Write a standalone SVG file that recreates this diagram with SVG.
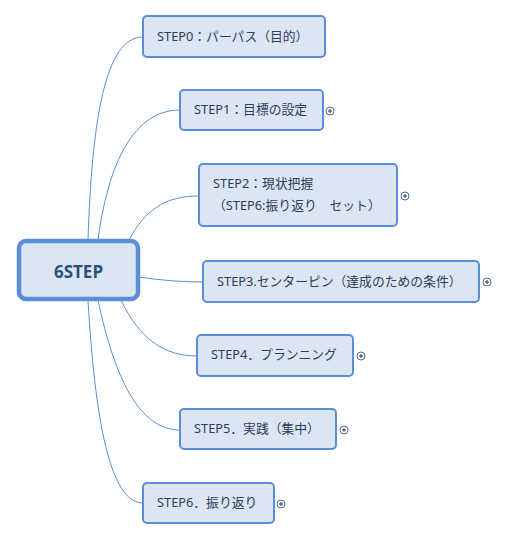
<svg xmlns="http://www.w3.org/2000/svg" width="507" height="541" viewBox="0 0 507 541">
<style>
.n{fill:#dce6f2;stroke:#5b8ed6;stroke-width:2}
.t{font-family:"Noto Sans","Noto Sans CJK JP",sans-serif;font-size:12.8px;fill:#2c3e5c}
.c{fill:none;stroke:#5b8ed6;stroke-width:1}
.p{fill:#fff;stroke:#3a5a8a;stroke-width:0.9}
.pl{stroke:#2c3e5c;stroke-width:1}
</style>
<rect width="507" height="541" fill="#fff"/>
<g id="connectors">
<path class="c" d="M88,240 C92,120 105,37 143,37"/>
<path class="c" d="M98,240 C110,150 140,110 180,110"/>
<path class="c" d="M129,240 C145,210 165,196 199,196"/>
<path class="c" d="M138,277 C160,280 180,282 203,282"/>
<path class="c" d="M121,300 C140,340 165,356 197,356"/>
<path class="c" d="M98,300 C115,380 140,430 180,430"/>
<path class="c" d="M88,300 C95,420 110,503 143,503"/>
</g>
<g id="root">
<rect x="19" y="241" width="119" height="58" rx="7" fill="#dce6f2" stroke="#5b8ed6" stroke-width="4.5"/>
<text x="78.5" y="277.5" text-anchor="middle" font-family="'Open Sans','Noto Sans',sans-serif" font-size="17" font-weight="bold" fill="#2e4f7a">6STEP</text>
</g>
<g id="step0">
<rect class="n" x="143" y="16" width="182" height="41" rx="4"/>
<text class="t" x="157" y="41">STEP0：パーパス（目的）</text>
</g>
<g id="step1">
<rect class="n" x="180" y="90" width="143" height="40" rx="4"/>
<text class="t" x="194" y="114">STEP1：目標の設定</text>
<circle class="p" cx="330" cy="111" r="4"/><path class="pl" d="M328,111h4M330,109v4"/>
</g>
<g id="step2">
<rect class="n" x="199" y="164" width="198" height="62" rx="4"/>
<text class="t" x="213" y="188">STEP2：現状把握</text>
<text class="t" x="213" y="210">（STEP6:振り返り　セット）</text>
<circle class="p" cx="405" cy="196" r="4"/><path class="pl" d="M403,196h4M405,194v4"/>
</g>
<g id="step3">
<rect class="n" x="203" y="261" width="276" height="41" rx="4"/>
<text class="t" x="217" y="286">STEP3.センターピン（達成のための条件）</text>
<circle class="p" cx="487" cy="282" r="4"/><path class="pl" d="M485,282h4M487,280v4"/>
</g>
<g id="step4">
<rect class="n" x="197" y="335" width="156" height="41" rx="4"/>
<text class="t" x="211" y="359">STEP4．プランニング</text>
<circle class="p" cx="361" cy="356" r="4"/><path class="pl" d="M359,356h4M361,354v4"/>
</g>
<g id="step5">
<rect class="n" x="180" y="409" width="156" height="40" rx="4"/>
<text class="t" x="194" y="433">STEP5．実践（集中）</text>
<circle class="p" cx="344" cy="430" r="4"/><path class="pl" d="M342,430h4M344,428v4"/>
</g>
<g id="step6">
<rect class="n" x="143" y="483" width="131" height="40" rx="4"/>
<text class="t" x="157" y="507">STEP6．振り返り</text>
<circle class="p" cx="281" cy="504" r="4"/><path class="pl" d="M279,504h4M281,502v4"/>
</g>
</svg>
